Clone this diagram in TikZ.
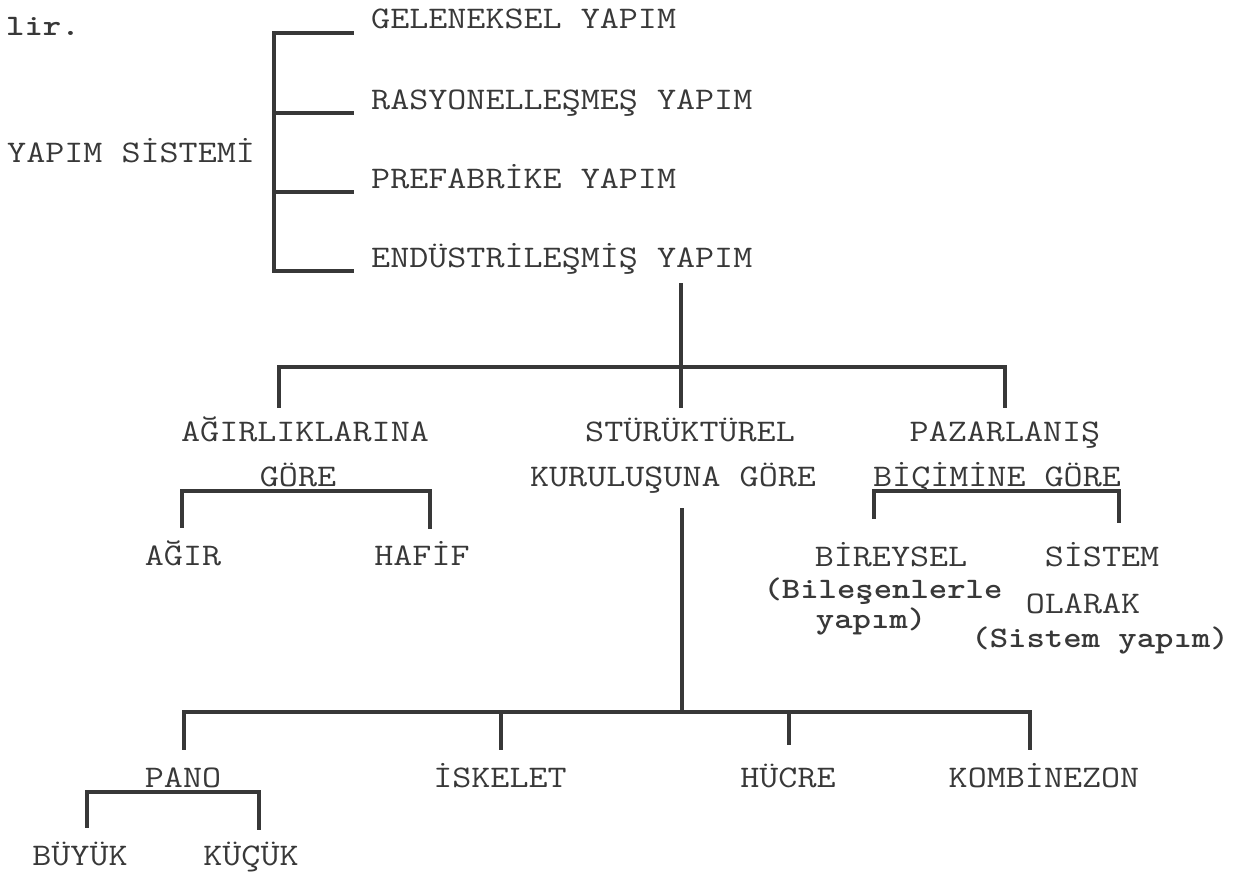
\documentclass[tikz,border=0pt]{standalone}
\usepackage{tikz}
\usepackage{graphicx}
\definecolor{ink}{HTML}{383838}
\newcommand{\tw}[1]{\scalebox{1}[0.85]{#1}}
\begin{document}
\begin{tikzpicture}[x=1pt,y=-1pt,
  lbl/.style={inner sep=0pt,anchor=base,text=ink,font=\fontsize{37}{40}\selectfont\ttfamily},
  sml/.style={inner sep=0pt,anchor=base,text=ink,font=\fontsize{35}{37}\selectfont\ttfamily\bfseries},
  ln/.style={draw=ink,line width=3.2pt,line cap=rect}]
\useasboundingbox (0,0) rectangle (1249,875);
% top
\node[sml,anchor=base west] (lir) at (6,36) {\tw{lir.}};
\node[lbl,anchor=base west] (ys) at (7,162) {\tw{YAPIM SİSTEMİ}};
\node[lbl,anchor=base west] (t1) at (371,29) {\tw{GELENEKSEL YAPIM}};
\node[lbl,anchor=base west] (t2) at (371,109) {\tw{RASYONELLEŞMEŞ YAPIM}};
\node[lbl,anchor=base west] (t3) at (371,188) {\tw{PREFABRİKE YAPIM}};
\node[lbl,anchor=base west] (t4) at (371,267) {\tw{ENDÜSTRİLEŞMİŞ YAPIM}};
\coordinate (b1) at (274,33); \coordinate (b2) at (274,113);
\coordinate (b3) at (274,192); \coordinate (b4) at (274,271);
\coordinate (e1) at (352,33); \coordinate (e2) at (352,113);
\coordinate (e3) at (352,192); \coordinate (e4) at (352,271);
\draw[ln] (e1) -- (b1) -- (b4) -- (e4);
\draw[ln] (b2) -- (e2);
\draw[ln] (b3) -- (e3);
% second level
\coordinate (s0) at (681,285);
\coordinate (sL) at (279,367); \coordinate (sR) at (1005,367);
\coordinate (sLd) at (279,406); \coordinate (sMd) at (681,406); \coordinate (sRd) at (1005,406);
\draw[ln] (s0) -- (sMd);
\draw[ln] (sLd) -- (sL) -- (sR) -- (sRd);
\node[lbl] (ag1) at (305,441) {\tw{AĞIRLIKLARINA}};
\node[lbl] (ag2) at (298,486) {\tw{GÖRE}};
\node[lbl] (st1) at (690,441) {\tw{STÜRÜKTÜREL}};
\node[lbl] (st2) at (673,486) {\tw{KURULUŞUNA GÖRE}};
\node[lbl] (pz1) at (1005,441) {\tw{PAZARLANIŞ}};
\node[lbl] (pz2) at (997,486) {\tw{BİÇİMİNE GÖRE}};
% agirlik branch
\coordinate (aL) at (182,491); \coordinate (aR) at (430,491);
\coordinate (aLd) at (182,526); \coordinate (aRd) at (430,527);
\draw[ln] (aLd) -- (aL) -- (aR) -- (aRd);
\node[lbl] (agir) at (183,565) {\tw{AĞIR}};
\node[lbl] (hafif) at (422,565) {\tw{HAFİF}};
% pazarlanis branch
\coordinate (pL) at (874,491); \coordinate (pR) at (1119,491);
\coordinate (pLd) at (874,517); \coordinate (pRd) at (1119,521);
\draw[ln] (pLd) -- (pL) -- (pR) -- (pRd);
\node[lbl] (bir) at (891,566) {\tw{BİREYSEL}};
\node[sml] (bir2) at (883,598) {\tw{(Bileşenlerle}};
\node[sml] (bir3) at (871,628) {\tw{yapım)}};
\node[lbl] (sis) at (1102,566) {\tw{SİSTEM}};
\node[lbl] (sis2) at (1083,613) {\tw{OLARAK}};
\node[sml] (sis3) at (1100,647) {\tw{(Sistem yapım)}};
% structural branch
\coordinate (k0) at (682,510);
\coordinate (kA) at (184,712); \coordinate (kB) at (501,712);
\coordinate (kC) at (789,712); \coordinate (kD) at (1030,712);
\coordinate (kM) at (682,712);
\coordinate (kAd) at (184,748); \coordinate (kBd) at (501,748);
\coordinate (kCd) at (789,743); \coordinate (kDd) at (1030,748);
\draw[ln] (k0) -- (kM);
\draw[ln] (kAd) -- (kA) -- (kD) -- (kDd);
\draw[ln] (kB) -- (kBd);
\draw[ln] (kC) -- (kCd);
\node[lbl] (pano) at (183,787) {\tw{PANO}};
\node[lbl] (isk) at (500,787) {\tw{İSKELET}};
\node[lbl] (huc) at (788,787) {\tw{HÜCRE}};
\node[lbl] (komb) at (1044,787) {\tw{KOMBİNEZON}};
% pano branch
\coordinate (nL) at (87,792); \coordinate (nR) at (259,792);
\coordinate (nLd) at (87,826); \coordinate (nRd) at (259,828);
\draw[ln] (nLd) -- (nL) -- (nR) -- (nRd);
\node[lbl] (buy) at (80,865) {\tw{BÜYÜK}};
\node[lbl] (kuc) at (251,865) {\tw{KÜÇÜK}};
\end{tikzpicture}
\end{document}
